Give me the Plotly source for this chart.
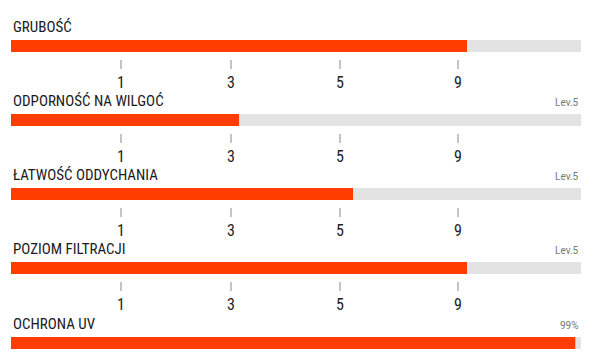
import plotly.graph_objects as go

categories = ["GRUBOŚĆ", "ODPORNOŚĆ NA WILGOĆ", "ŁATWOŚĆ ODDYCHANIA", "POZIOM FILTRACJI", "OCHRONA UV"]
values = [0.80, 0.40, 0.60, 0.80, 0.99]
right_labels = ["", "Lev.5", "Lev.5", "Lev.5", "99%"]
tick_positions = [0.193, 0.386, 0.577, 0.784]
tick_labels = ["1", "3", "5", "9"]
show_scale = [True, True, True, True, False]

# the page body has an 8px default margin; work in page pixels and subtract it
OFF = 8
W, H = 598 - OFF, 362 - OFF
X0, X1 = 11 - OFF, 581 - OFF
bar_tops = [40 - OFF, 114 - OFF, 188 - OFF, 262 - OFF, 337 - OFF]
BAR_H = 12
PLOT_H = 19

ORANGE = "#FF3D00"
TRACK = "#E3E3E3"
FONT = "Roboto Condensed, Roboto, sans-serif"

fig = go.Figure()
layout = dict(
    width=W, height=H, margin=dict(l=0, r=0, t=0, b=0),
    paper_bgcolor="white", plot_bgcolor="white",
    showlegend=False, barmode="overlay", annotations=[],
)

def py(px):
    return 1 - px / H

for i, (cat, v) in enumerate(zip(categories, values)):
    n = "" if i == 0 else str(i + 1)
    T = bar_tops[i]
    ph = PLOT_H if show_scale[i] else BAR_H
    for xv, col in ((1.0, TRACK), (v, ORANGE)):
        fig.add_trace(go.Bar(
            x=[xv], y=[0], orientation="h", width=1,
            marker=dict(color=col, line=dict(width=0)),
            xaxis="x" + n, yaxis="y" + n, hoverinfo="skip",
        ))
    extra = (ph - BAR_H) / BAR_H
    layout["xaxis" + n] = dict(
        domain=[X0 / W, X1 / W], range=[0, 1], anchor="y" + n,
        showgrid=False, zeroline=False, showline=False,
        tickmode="array", tickvals=tick_positions if show_scale[i] else [],
        ticktext=tick_labels if show_scale[i] else [],
        ticks="outside" if show_scale[i] else "", ticklen=9, tickwidth=1.5,
        tickcolor="#c4c4c4", showticklabels=show_scale[i],
        tickfont=dict(family=FONT, size=16, color="#222"),
        ticklabelstandoff=0,
        fixedrange=True,
    )
    layout["yaxis" + n] = dict(
        domain=[py(T + ph), py(T)], range=[-0.5 - extra, 0.5], anchor="x" + n,
        visible=False, fixedrange=True,
    )
    layout["annotations"].append(dict(
        text=cat, x=X0 / W, y=py(T - 13), xref="paper", yref="paper",
        xanchor="left", yanchor="middle", showarrow=False,
        font=dict(family=FONT, size=15, color="#1a1a1a"),
    ))
    if right_labels[i]:
        layout["annotations"].append(dict(
            text=right_labels[i], x=X1 / W, y=py(T - 12), xref="paper", yref="paper",
            xanchor="right", yanchor="middle", showarrow=False,
            font=dict(family="Roboto, sans-serif", size=10, color="#777"),
        ))

fig.update_layout(**layout)
fig.write_html("out.html")
